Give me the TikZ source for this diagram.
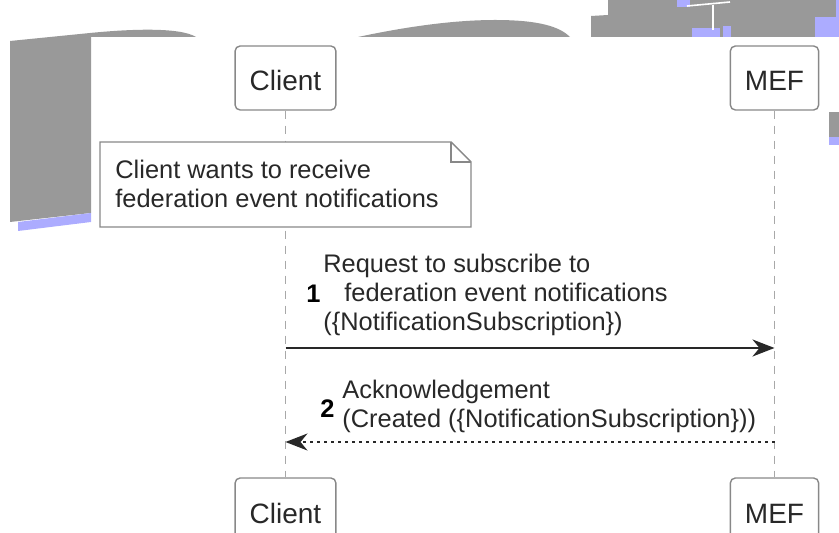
\documentclass[tikz,border=0pt]{standalone}
\usepackage{fontspec}
\setmainfont{Liberation Sans}
\usetikzlibrary{arrows.meta,positioning,calc}
\definecolor{umlGray}{RGB}{136,136,136}
\definecolor{lineGray}{RGB}{168,168,168}
\definecolor{textGray}{RGB}{40,40,40}
\definecolor{bgGray}{RGB}{153,153,153}
\definecolor{bgBlue}{RGB}{172,172,255}

\begin{document}
\begin{tikzpicture}[x=0.5pt,y=-0.5pt,
    part/.style={draw=umlGray,line width=0.7pt,rounded corners=2.5pt,fill=white,text=textGray,font=\fontsize{14}{17}\selectfont,inner xsep=7.3pt,minimum height=32pt,text height=13pt,text depth=0pt},
    life/.style={draw=lineGray,line width=0.6pt,dash pattern=on 4pt off 3.5pt},
    lbl/.style={anchor=base west,inner sep=0pt,align=left,text=textGray,font=\fontsize{12.7}{14.5}\selectfont},
    num/.style={anchor=base west,inner sep=0pt,text=black,font=\fontsize{12.7}{14.5}\selectfont\bfseries},
    msg/.style={-{Stealth[length=11pt,width=8.5pt,inset=3.5pt]},line width=1pt,draw=textGray},
    reply/.style={msg,dash pattern=on 1.5pt off 2pt}
  ]
  \useasboundingbox (0,0) rectangle (839,533);
  \clip (0,0) rectangle (839,533);

  % grey patches behind the diagram
  \fill[bgGray] (10,41) -- (90,33) .. controls (130,29) and (180,27) .. (196,37) -- (91,37) -- (91,213) -- (10,222) -- cycle;
  \fill[bgBlue] (18,222) -- (91,213) -- (91,222) -- (18,231) -- cycle;
  \fill[bgGray] (358,37) .. controls (400,28) and (450,20) .. (495,20) .. controls (540,20) and (560,27) .. (570,37) -- cycle;
  \fill[bgGray] (591,37) -- (591,16) -- (608,15) -- (608,0) -- (839,0) -- (839,37) -- cycle;
  \fill[bgBlue] (677,0) rectangle (690,7);
  \fill[bgBlue] (692,28) rectangle (720,37);
  \fill[bgBlue] (723,26) rectangle (731,37);
  \fill[bgBlue] (815,17) rectangle (839,37);
  \fill[bgBlue] (836,0) rectangle (839,17);
  \draw[white,line width=0.8pt] (687,6) -- (730,2);
  \draw[white,line width=0.8pt] (713,5) -- (713,30);
  \fill[bgGray] (829,112) rectangle (839,137);
  \fill[bgBlue] (829,137) rectangle (839,145);

  % participants
  \node[part] (cl1) at (285.5,78) {Client};
  \node[part] (mef1) at (774.5,78) {MEF};
  \node[part] (cl2) at (285.5,510) {Client};
  \node[part] (mef2) at (774.5,510) {MEF};
  \draw[life] (cl1.south) -- (cl2.north);
  \draw[life] (mef1.south) -- (mef2.north);

  % note
  \node[minimum width=185.5pt,minimum height=42.5pt,inner sep=0pt,outer sep=0pt] (note) at (285.5,184.5) {};
  \draw[draw=umlGray,fill=white,line width=0.7pt] (note.north west) -- ($(note.north east)+(-20,0)$) -- ($(note.north east)+(0,20)$) -- (note.south east) -- (note.south west) -- cycle;
  \draw[draw=umlGray,line width=0.7pt] ($(note.north east)+(-20,0)$) |- ($(note.north east)+(0,20)$);
  \node[lbl] (notetxt) at (115,208) {Client wants to receive\\federation event notifications};

  % messages
  \node[lbl] (t1) at (323,331) {Request to subscribe to\\\hspace*{10.5pt}federation event notifications\\(\{NotificationSubscription\})};
  \node[num] (n1) at (306,303) {1};
  \coordinate (y1) at (0,348);
  \draw[msg] (cl1 |- y1) -- (mef1 |- y1);

  \node[lbl] (t2) at (342,428) {Acknowledgement\\(Created (\{NotificationSubscription\}))};
  \node[num] (n2) at (320,417) {2};
  \coordinate (y2) at (0,442);
  \draw[reply] (mef1 |- y2) -- (cl1 |- y2);
\end{tikzpicture}
\end{document}
